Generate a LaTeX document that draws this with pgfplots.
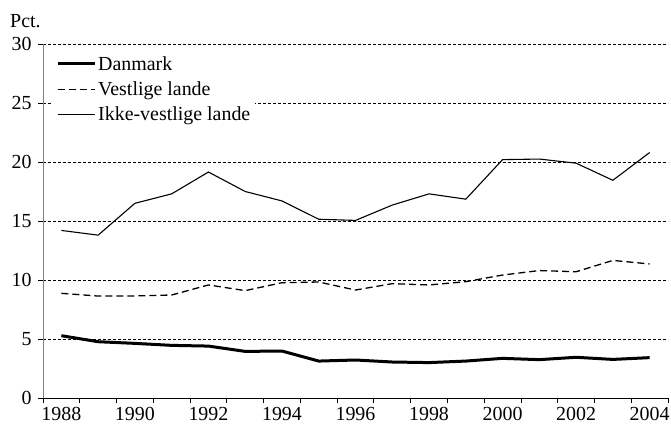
\documentclass[border=0pt]{standalone}
\usepackage{fontspec}
\setmainfont{Liberation Serif}
\usepackage{pgfplots}
\pgfplotsset{compat=1.18}
\begin{document}
\begin{tikzpicture}[font=\fontsize{20}{24}\selectfont]
\useasboundingbox (-43bp,-27bp) rectangle (628bp,398bp);
\begin{axis}[
  at={(0,0)}, anchor=south west,
  scale only axis, width=625bp, height=354bp,
  xmin=1987.5, xmax=2004.5, ymin=0, ymax=30,
  axis lines*=left,
  axis line style={line width=0.8bp},
  y axis line style={gray},
  ytick={0,5,...,30},
  xtick={1988,1990,...,2004},
  minor xtick={1987.5,1988.5,...,2004.5},
  tick align=outside,
  major tick length=5bp,
  minor tick length=5bp,
  major x tick style={draw=none},
  minor x tick style={black, line width=0.8bp},
  y tick style={black, line width=0.8bp},
  yticklabel style={xshift=-3bp},
  xticklabel style={yshift=-1bp},
  /pgf/number format/assume math mode=true,
  /pgf/number format/1000 sep={},
  ymajorgrids,
  major grid style={black, line width=0.6bp, dash pattern=on 3bp off 2bp},
  legend cell align=left,
  legend style={draw=none, fill=white, at={(0,1)}, anchor=north west,
    xshift=10bp, yshift=-7bp, inner sep=3bp, row sep=6bp,
    font=\fontsize{20}{24}\selectfont},
  legend image code/.code={\draw[#1] (0bp,0bp) -- (37bp,0bp);},
]
\addplot[black, line width=3bp] coordinates {
(1988,5.28)(1989,4.77)(1990,4.63)(1991,4.46)(1992,4.40)(1993,3.95)(1994,3.98)
(1995,3.13)(1996,3.22)(1997,3.05)(1998,3.00)(1999,3.13)(2000,3.36)(2001,3.25)
(2002,3.45)(2003,3.27)(2004,3.42)};
\addlegendentry{Danmark}
\addplot[black, line width=1.3bp, dash pattern=on 7bp off 4bp] coordinates {
(1988,8.87)(1989,8.64)(1990,8.65)(1991,8.73)(1992,9.58)(1993,9.10)(1994,9.77)
(1995,9.83)(1996,9.15)(1997,9.69)(1998,9.58)(1999,9.86)(2000,10.42)(2001,10.80)
(2002,10.70)(2003,11.66)(2004,11.36)};
\addlegendentry{Vestlige lande}
\addplot[black, line width=1.1bp] coordinates {
(1988,14.2)(1989,13.8)(1990,16.5)(1991,17.3)(1992,19.15)(1993,17.5)(1994,16.7)
(1995,15.15)(1996,15.05)(1997,16.35)(1998,17.3)(1999,16.85)(2000,20.2)(2001,20.25)
(2002,19.9)(2003,18.45)(2004,20.8)};
\addlegendentry{Ikke-vestlige lande}
\end{axis}
\node[anchor=base west, inner sep=0pt] at (-33bp,370bp) {Pct.};
\end{tikzpicture}
\end{document}
